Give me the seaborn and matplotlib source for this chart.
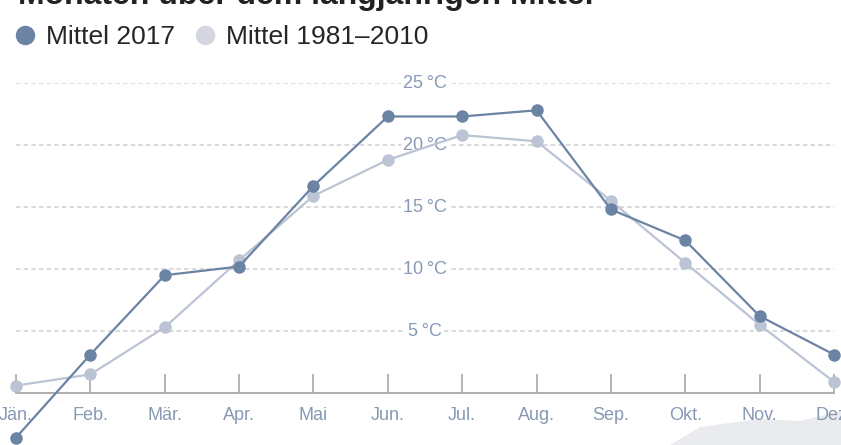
import matplotlib
matplotlib.use("Agg")
import matplotlib.pyplot as plt
import seaborn as sns
import pandas as pd
from matplotlib.lines import Line2D
from matplotlib.patches import Polygon

months = ["Jän.", "Feb.", "Mär.", "Apr.", "Mai", "Jun.", "Jul.", "Aug.", "Sep.", "Okt.", "Nov.", "Dez."]
mittel_2017 = [-3.6, 3.1, 9.5, 10.2, 16.7, 22.3, 22.3, 22.8, 14.8, 12.3, 6.2, 3.1]
mittel_1981_2010 = [0.6, 1.5, 5.3, 10.7, 15.9, 18.8, 20.8, 20.3, 15.5, 10.5, 5.5, 0.9]
y_ticks = [5, 10, 15, 20, 25]
series_names = ["Mittel 2017", "Mittel 1981–2010"]
title = "Monaten über dem langjährigen Mittel"

dark = "#6b84a3"
light = "#bcc3d4"
light_legend = "#d4d7e0"
label_col = "#8799b5"

df = pd.concat([
    pd.DataFrame({"m": range(12), "t": mittel_1981_2010, "s": series_names[1]}),
    pd.DataFrame({"m": range(12), "t": mittel_2017, "s": series_names[0]}),
])

sns.set_theme(style="white")
plt.rcParams["font.family"] = ["Liberation Sans", "DejaVu Sans"]

W, H = 841, 445
fig = plt.figure(figsize=(W / 100, H / 100), dpi=100)
ax = fig.add_axes([16 / W, (H - 393) / H, (834 - 16) / W, (393 - 83) / H])

sns.lineplot(data=df, x="m", y="t", hue="s", palette={series_names[0]: dark, series_names[1]: light},
             marker="o", markersize=9, markeredgewidth=0, linewidth=1.6, ax=ax, legend=False, zorder=3)
for ln in ax.lines:
    ln.set_clip_on(False)

ax.set_xlim(0, 11)
ax.set_ylim(0, 25)
for s in ["top", "right", "left"]:
    ax.spines[s].set_visible(False)
ax.spines["bottom"].set_color("#a8a8a8")
ax.spines["bottom"].set_linewidth(1.3)
ax.set_xticks(range(12))
ax.set_xticklabels(months, fontsize=13, color=label_col)
ax.tick_params(axis="x", direction="in", length=14, width=1.2, color="#a8a8a8", pad=10, bottom=True)
ax.set_yticks(y_ticks)
ax.set_yticklabels([])
ax.tick_params(axis="y", length=0)
ax.yaxis.grid(True, color="#cfcfcf", linestyle=(0, (3, 2)), linewidth=1.1)
ax.set_xlabel("")
ax.set_ylabel("")
for v in y_ticks:
    ax.text(5.5, v, f"{v}\u2009°C", ha="center", va="center", fontsize=13, color=label_col,
            bbox=dict(facecolor="white", edgecolor="none", pad=1.5), zorder=2)

fig.text(18 / W, 1 - 4 / H, title, fontsize=23, fontweight="bold", color="#222222",
         ha="left", va="baseline")

handles = [Line2D([], [], marker="o", linestyle="none", markersize=14, markeredgewidth=0, color=dark),
           Line2D([], [], marker="o", linestyle="none", markersize=14, markeredgewidth=0, color=light_legend)]
fig.legend(handles, series_names, loc="center left", bbox_to_anchor=(12 / W, 1 - 37 / H), ncol=2,
           frameon=False, prop={"family": ["Liberation Sans Narrow", "Liberation Sans"], "size": 19},
           handletextpad=0.3, columnspacing=0.62, handlelength=1.0, borderaxespad=0, borderpad=0)

fig.add_artist(Polygon([(670 / W, 0), (700 / W, 18 / H), (760 / W, 26 / H), (800 / W, 24 / H),
                        (841 / W, 34 / H), (1, 0)], closed=True, transform=fig.transFigure,
                       facecolor="#e9ebee", edgecolor="none", zorder=0))

fig.savefig("out.png", dpi=100)
